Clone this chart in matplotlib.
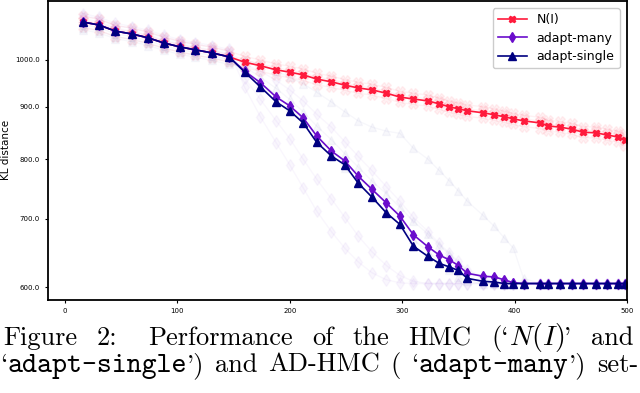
import matplotlib
matplotlib.use("Agg")
import matplotlib.pyplot as plt
from matplotlib.ticker import FixedLocator, FixedFormatter, NullLocator

plt.rcParams['mathtext.fontset'] = 'cm'

# iterations at which the KL distance was recorded
iters = [16, 30, 45, 60, 74, 88, 102, 116, 131, 146, 160, 174, 188, 200, 212,
         224, 237, 249, 261, 273, 286, 298, 310, 323, 333, 342, 350, 358, 372,
         382, 391, 399, 408, 423, 430, 440, 451, 461, 472, 482, 492, 498]

# mean curves
kl_normal = [1089, 1082, 1067, 1060, 1051, 1039, 1030, 1023, 1016, 1007,
             995, 987, 978, 973, 967, 958, 952, 945, 939, 935,
             928, 920, 916, 912, 906, 900, 896, 892, 888, 884,
             880, 876, 872, 868, 862, 860, 856, 850, 849, 845, 841, 835]
kl_many = [1089, 1082, 1067, 1060, 1051, 1039, 1030, 1023, 1016, 1007,
           975, 950, 920, 902, 878, 843, 815, 797, 770, 748,
           725, 704, 675, 657, 645, 638, 630, 619, 615, 614,
           610, 606, 605, 605, 605, 605, 605, 605, 605, 605, 605, 605]
kl_single = [1089, 1082, 1067, 1060, 1051, 1039, 1030, 1023, 1016, 1007,
             973, 941, 910, 892, 868, 831, 806, 790, 758, 735,
             709, 691, 658, 643, 633, 628, 623, 612, 608, 607,
             605, 605, 605, 605, 605, 605, 605, 605, 605, 605, 605, 605]

# individual runs (drawn faint)
runs_normal = [
    [1103, 1096, 1081, 1074, 1065, 1053, 1043, 1036, 1029, 1020, 1008, 1000, 991, 986,
     980, 971, 964, 957, 951, 947, 940, 932, 928, 924, 918, 912, 908, 904, 900, 896,
     891, 887, 883, 879, 873, 871, 867, 861, 860, 856, 852, 846],
    [1076, 1069, 1054, 1047, 1038, 1027, 1018, 1011, 1004, 995, 983, 975, 966, 961,
     955, 946, 940, 934, 928, 924, 917, 909, 905, 901, 895, 889, 885, 881, 877, 873,
     869, 865, 861, 857, 852, 850, 846, 840, 839, 835, 831, 825],
    [1094, 1085, 1073, 1063, 1057, 1042, 1036, 1026, 1022, 1010, 1001, 990, 984, 976,
     972, 961, 958, 948, 944, 938, 933, 923, 921, 915, 911, 903, 901, 895, 893, 887,
     885, 879, 877, 871, 867, 863, 861, 853, 854, 848, 846, 838],
]
runs_many = [
    [1105, 1097, 1080, 1074, 1064, 1052, 1043, 1036, 1029, 1020, 960, 915, 872, 838,
     800, 765, 732, 702, 673, 650, 630, 616, 608, 605, 605, 605, 605, 605, 605, 605,
     605, 605, 605, 605, 605, 605, 605, 605, 605, 605, 605, 605],
    [1098, 1089, 1075, 1066, 1058, 1045, 1037, 1029, 1023, 1013, 990, 975, 955, 935,
     912, 885, 860, 832, 805, 780, 752, 728, 702, 680, 662, 648, 636, 624, 614, 608,
     605, 605, 605, 605, 605, 605, 605, 605, 605, 605, 605, 605],
    [1110, 1101, 1086, 1078, 1069, 1057, 1047, 1040, 1033, 1024, 940, 880, 830, 790,
     750, 712, 680, 655, 635, 620, 610, 606, 605, 605, 605, 605, 605, 605, 605, 605,
     605, 605, 605, 605, 605, 605, 605, 605, 605, 605, 605, 605],
]
runs_single = [
    [1075, 1068, 1054, 1047, 1038, 1027, 1018, 1011, 1004, 996, 980, 950, 925, 900,
     872, 845, 812, 785, 760, 735, 712, 690, 668, 650, 636, 624, 614, 608, 605, 605,
     605, 605, 605, 605, 605, 605, 605, 605, 605, 605, 605, 605],
    [1082, 1076, 1060, 1054, 1044, 1033, 1024, 1017, 1010, 1001, 1000, 990, 975, 962,
     948, 930, 910, 890, 872, 860, 852, 848, 820, 800, 780, 762, 745, 728, 705, 688,
     670, 655, 612, 605, 605, 605, 605, 605, 605, 605, 605, 605],
    [1070, 1063, 1049, 1042, 1033, 1022, 1013, 1006, 999, 990, 985, 962, 938, 915,
     890, 862, 836, 810, 786, 762, 740, 718, 696, 676, 660, 646, 634, 622, 612, 606,
     605, 605, 605, 605, 605, 605, 605, 605, 605, 605, 605, 605],
]

c_normal = '#ff1a3c'
c_many = '#6a0dcc'
c_single = '#000080'

W, H = 640, 393
fig = plt.figure(figsize=(W / 100, H / 100), dpi=100)
ax = fig.add_axes([48 / W, 1 - 300 / H, (627 - 48) / W, (300 - 0.5) / H])

for r in runs_normal:
    ax.plot(iters, r, color=c_normal, marker='X', ms=7, lw=1, alpha=0.06)
for r in runs_many:
    ax.plot(iters, r, color=c_many, marker='d', ms=6, lw=1, alpha=0.035)
for r in runs_single:
    ax.plot(iters, r, color=c_single, marker='^', ms=6, lw=1, alpha=0.03)

ax.plot(iters, kl_normal, color=c_normal, marker='X', ms=5, lw=1.2, label='N(I)')
ax.plot(iters, kl_many, color=c_many, marker='d', ms=5, lw=1.2, label='adapt-many')
ax.plot(iters, kl_single, color=c_single, marker='^', ms=5.5, lw=1.2, label='adapt-single')

ax.set_yscale('log')
ax.set_xlim(-15, 500)
ax.set_ylim(583, 1143)
ax.yaxis.set_major_locator(FixedLocator([600, 700, 800, 900, 1000]))
ax.yaxis.set_major_formatter(FixedFormatter(['600.0', '700.0', '800.0', '900.0', '1000.0']))
ax.yaxis.set_minor_locator(NullLocator())
ax.set_xticks([0, 100, 200, 300, 400, 500])
ax.tick_params(labelsize=5, length=2.5, width=0.8)
for s in ax.spines.values():
    s.set_linewidth(1.3)
ax.set_ylabel('KL distance', fontsize=7.5, labelpad=3)

ax.legend(loc='upper right', fontsize=9, handlelength=2.3, borderaxespad=0.6,
          labelspacing=0.45, framealpha=1)

# caption below the plot (justified lines)
renderer = fig.canvas.get_renderer()


def put_line(words, base_y, x0, x1, weights=None):
    made = []
    widths = []
    for word in words:
        parts = []
        w = 0
        for s, fam, size in word:
            t = fig.text(0, 1 - base_y / H, s, family=fam, fontsize=size, va='baseline')
            pw = t.get_window_extent(renderer).width
            parts.append((t, pw))
            w += pw
        made.append(parts)
        widths.append(w)
    if weights is None:
        weights = [1] * (len(words) - 1)
    unit = (x1 - x0 - sum(widths)) / sum(weights)
    x = x0
    for i, (parts, w) in enumerate(zip(made, widths)):
        for t, pw in parts:
            t.set_x(x / W)
            x += pw
        if i < len(weights):
            x += unit * weights[i]


rm = ('cmr10', 19)
tt = ('cmtt10', 20.5)
mt = ('cmr10', 20)
line1 = [[('Figure',) + rm], [('2:',) + rm], [('Performance',) + rm], [('of',) + rm],
         [('the',) + rm], [('HMC',) + rm], [('(`',) + rm, ('$N(I)$',) + mt, ("'",) + rm],
         [('and',) + rm]]
line2 = [[('`',) + rm, ('adapt-single',) + tt, ("')",) + rm], [('and',) + rm],
         [('AD-HMC',) + rm], [('(',) + rm], [('`',) + rm, ('adapt-many',) + tt, ("')",) + rm],
         [('set-',) + rm]]
put_line(line1, 345, 3, 633, weights=[1, 1.6, 1, 1, 1, 1, 1])
put_line(line2, 372, 0, 638)

fig.savefig('out.png', dpi=100)
